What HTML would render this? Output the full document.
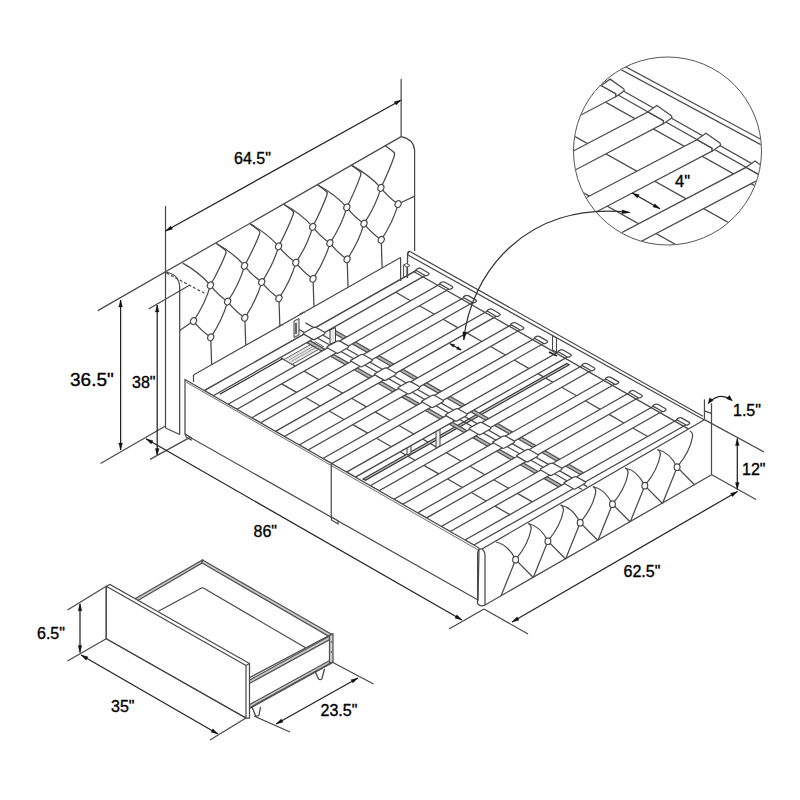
<!DOCTYPE html>
<html><head><meta charset="utf-8"><style>
html,body{margin:0;padding:0;background:#fff;}
svg{display:block;}
text{font-family:"Liberation Sans",sans-serif;fill:#000;stroke:#000;stroke-width:0.35px;}
</style></head><body>
<svg width="800" height="800" viewBox="0 0 800 800">
<rect width="800" height="800" fill="#fff"/>
<line x1="97.8" y1="310.6" x2="401.15" y2="136.6" stroke="#4a4a4a" stroke-width="1.25"/>
<path d="M401.15,136.6 Q413.5,139 414.6,150 L414.6,251" fill="none" stroke="#4a4a4a" stroke-width="1.25"/>
<line x1="165.5" y1="206" x2="165.5" y2="428" stroke="#4a4a4a" stroke-width="1.25"/>
<path d="M165.5,272 Q178.5,274 179.7,286 L179.7,434.5" fill="none" stroke="#4a4a4a" stroke-width="1.25"/>
<line x1="165.5" y1="428" x2="179.7" y2="434.5" stroke="#4a4a4a" stroke-width="1.25"/>
<line x1="166.5" y1="273" x2="205.5" y2="293.75" stroke="#4a4a4a" stroke-width="1.25" stroke-dasharray="3,2"/>
<path d="M182.75,263.1 Q199.96,272.81 210.4,285.3" fill="none" stroke="#4a4a4a" stroke-width="1.25"/>
<path d="M216.45,243.5 Q233.87,253.26 244.5,265.8" fill="none" stroke="#4a4a4a" stroke-width="1.25"/>
<path d="M216.45,243.5 L224.54,249.51 Q226.95,251.3 225.64,254 Q219.88,268.3 210.4,285.3" fill="none" stroke="#4a4a4a" stroke-width="1.25"/>
<path d="M250.15,223.9 Q267.78,233.71 278.6,246.3" fill="none" stroke="#4a4a4a" stroke-width="1.25"/>
<path d="M250.15,223.9 L258.24,229.91 Q260.65,231.7 259.37,234.41 Q253.77,248.75 244.5,265.8" fill="none" stroke="#4a4a4a" stroke-width="1.25"/>
<path d="M283.85,204.3 Q301.69,214.15 312.7,226.8" fill="none" stroke="#4a4a4a" stroke-width="1.25"/>
<path d="M283.85,204.3 L291.94,210.31 Q294.35,212.1 293.1,214.82 Q287.68,229.2 278.6,246.3" fill="none" stroke="#4a4a4a" stroke-width="1.25"/>
<path d="M317.55,184.7 Q335.59,194.6 346.8,207.3" fill="none" stroke="#4a4a4a" stroke-width="1.25"/>
<path d="M317.55,184.7 L325.64,190.71 Q328.05,192.5 326.82,195.24 Q321.57,209.65 312.7,226.8" fill="none" stroke="#4a4a4a" stroke-width="1.25"/>
<path d="M351.25,165.1 Q369.5,175.04 380.9,187.8" fill="none" stroke="#4a4a4a" stroke-width="1.25"/>
<path d="M351.25,165.1 L359.34,171.11 Q361.75,172.9 360.55,175.65 Q355.47,190.1 346.8,207.3" fill="none" stroke="#4a4a4a" stroke-width="1.25"/>
<path d="M384.95,145.5 L393.04,151.51 Q395.45,153.3 394.28,156.06 Q389.38,170.55 380.9,187.8" fill="none" stroke="#4a4a4a" stroke-width="1.25"/>
<path d="M210.4,285.3 Q218,294.93 227.61,301.55" fill="none" stroke="#4a4a4a" stroke-width="1.25"/>
<path d="M210.4,285.3 Q205.45,303.18 193.51,321.05" fill="none" stroke="#4a4a4a" stroke-width="1.25"/>
<path d="M244.5,265.8 Q252.11,275.43 261.71,282.05" fill="none" stroke="#4a4a4a" stroke-width="1.25"/>
<path d="M244.5,265.8 Q239.56,283.68 227.61,301.55" fill="none" stroke="#4a4a4a" stroke-width="1.25"/>
<path d="M278.6,246.3 Q286.21,255.93 295.81,262.55" fill="none" stroke="#4a4a4a" stroke-width="1.25"/>
<path d="M278.6,246.3 Q273.66,264.18 261.71,282.05" fill="none" stroke="#4a4a4a" stroke-width="1.25"/>
<path d="M312.7,226.8 Q320.31,236.43 329.91,243.05" fill="none" stroke="#4a4a4a" stroke-width="1.25"/>
<path d="M312.7,226.8 Q307.75,244.68 295.81,262.55" fill="none" stroke="#4a4a4a" stroke-width="1.25"/>
<path d="M346.8,207.3 Q354.41,216.93 364.01,223.55" fill="none" stroke="#4a4a4a" stroke-width="1.25"/>
<path d="M346.8,207.3 Q341.86,225.18 329.91,243.05" fill="none" stroke="#4a4a4a" stroke-width="1.25"/>
<path d="M380.9,187.8 Q388.5,197.43 398.11,204.05" fill="none" stroke="#4a4a4a" stroke-width="1.25"/>
<path d="M380.9,187.8 Q375.96,205.68 364.01,223.55" fill="none" stroke="#4a4a4a" stroke-width="1.25"/>
<path d="M193.51,321.05 Q201.12,330.68 210.72,337.3" fill="none" stroke="#4a4a4a" stroke-width="1.25"/>
<path d="M227.61,301.55 Q235.22,311.18 244.82,317.8" fill="none" stroke="#4a4a4a" stroke-width="1.25"/>
<path d="M227.61,301.55 Q222.67,319.43 210.72,337.3" fill="none" stroke="#4a4a4a" stroke-width="1.25"/>
<path d="M261.71,282.05 Q269.32,291.68 278.92,298.3" fill="none" stroke="#4a4a4a" stroke-width="1.25"/>
<path d="M261.71,282.05 Q256.76,299.93 244.82,317.8" fill="none" stroke="#4a4a4a" stroke-width="1.25"/>
<path d="M295.81,262.55 Q303.42,272.18 313.02,278.8" fill="none" stroke="#4a4a4a" stroke-width="1.25"/>
<path d="M295.81,262.55 Q290.87,280.43 278.92,298.3" fill="none" stroke="#4a4a4a" stroke-width="1.25"/>
<path d="M329.91,243.05 Q337.51,252.68 347.12,259.3" fill="none" stroke="#4a4a4a" stroke-width="1.25"/>
<path d="M329.91,243.05 Q324.97,260.93 313.02,278.8" fill="none" stroke="#4a4a4a" stroke-width="1.25"/>
<path d="M364.01,223.55 Q371.62,233.18 381.22,239.8" fill="none" stroke="#4a4a4a" stroke-width="1.25"/>
<path d="M364.01,223.55 Q359.07,241.43 347.12,259.3" fill="none" stroke="#4a4a4a" stroke-width="1.25"/>
<path d="M398.11,204.05 Q393.17,221.93 381.22,239.8" fill="none" stroke="#4a4a4a" stroke-width="1.25"/>
<line x1="193.51" y1="321.05" x2="179.7" y2="330.4" stroke="#4a4a4a" stroke-width="1.25"/>
<line x1="398.11" y1="204.05" x2="414.6" y2="196.1" stroke="#4a4a4a" stroke-width="1.25"/>
<line x1="210.72" y1="337.3" x2="211.72" y2="366.66" stroke="#4a4a4a" stroke-width="1.25"/>
<line x1="244.82" y1="317.8" x2="245.82" y2="347.32" stroke="#4a4a4a" stroke-width="1.25"/>
<line x1="278.92" y1="298.3" x2="279.92" y2="327.97" stroke="#4a4a4a" stroke-width="1.25"/>
<line x1="313.02" y1="278.8" x2="314.02" y2="308.63" stroke="#4a4a4a" stroke-width="1.25"/>
<line x1="347.12" y1="259.3" x2="348.12" y2="289.28" stroke="#4a4a4a" stroke-width="1.25"/>
<line x1="381.22" y1="239.8" x2="382.22" y2="269.94" stroke="#4a4a4a" stroke-width="1.25"/>
<ellipse cx="210.4" cy="285.3" rx="2.9" ry="3.5" transform="rotate(25 210.4 285.3)" fill="#fff" stroke="#4a4a4a" stroke-width="1.2"/>
<ellipse cx="244.5" cy="265.8" rx="2.9" ry="3.5" transform="rotate(25 244.5 265.8)" fill="#fff" stroke="#4a4a4a" stroke-width="1.2"/>
<ellipse cx="278.6" cy="246.3" rx="2.9" ry="3.5" transform="rotate(25 278.6 246.3)" fill="#fff" stroke="#4a4a4a" stroke-width="1.2"/>
<ellipse cx="312.7" cy="226.8" rx="2.9" ry="3.5" transform="rotate(25 312.7 226.8)" fill="#fff" stroke="#4a4a4a" stroke-width="1.2"/>
<ellipse cx="346.8" cy="207.3" rx="2.9" ry="3.5" transform="rotate(25 346.8 207.3)" fill="#fff" stroke="#4a4a4a" stroke-width="1.2"/>
<ellipse cx="380.9" cy="187.8" rx="2.9" ry="3.5" transform="rotate(25 380.9 187.8)" fill="#fff" stroke="#4a4a4a" stroke-width="1.2"/>
<ellipse cx="193.51" cy="321.05" rx="2.9" ry="3.5" transform="rotate(25 193.51 321.05)" fill="#fff" stroke="#4a4a4a" stroke-width="1.2"/>
<ellipse cx="227.61" cy="301.55" rx="2.9" ry="3.5" transform="rotate(25 227.61 301.55)" fill="#fff" stroke="#4a4a4a" stroke-width="1.2"/>
<ellipse cx="261.71" cy="282.05" rx="2.9" ry="3.5" transform="rotate(25 261.71 282.05)" fill="#fff" stroke="#4a4a4a" stroke-width="1.2"/>
<ellipse cx="295.81" cy="262.55" rx="2.9" ry="3.5" transform="rotate(25 295.81 262.55)" fill="#fff" stroke="#4a4a4a" stroke-width="1.2"/>
<ellipse cx="329.91" cy="243.05" rx="2.9" ry="3.5" transform="rotate(25 329.91 243.05)" fill="#fff" stroke="#4a4a4a" stroke-width="1.2"/>
<ellipse cx="364.01" cy="223.55" rx="2.9" ry="3.5" transform="rotate(25 364.01 223.55)" fill="#fff" stroke="#4a4a4a" stroke-width="1.2"/>
<ellipse cx="398.11" cy="204.05" rx="2.9" ry="3.5" transform="rotate(25 398.11 204.05)" fill="#fff" stroke="#4a4a4a" stroke-width="1.2"/>
<ellipse cx="210.72" cy="337.3" rx="2.9" ry="3.5" transform="rotate(25 210.72 337.3)" fill="#fff" stroke="#4a4a4a" stroke-width="1.2"/>
<ellipse cx="244.82" cy="317.8" rx="2.9" ry="3.5" transform="rotate(25 244.82 317.8)" fill="#fff" stroke="#4a4a4a" stroke-width="1.2"/>
<ellipse cx="278.92" cy="298.3" rx="2.9" ry="3.5" transform="rotate(25 278.92 298.3)" fill="#fff" stroke="#4a4a4a" stroke-width="1.2"/>
<ellipse cx="313.02" cy="278.8" rx="2.9" ry="3.5" transform="rotate(25 313.02 278.8)" fill="#fff" stroke="#4a4a4a" stroke-width="1.2"/>
<ellipse cx="347.12" cy="259.3" rx="2.9" ry="3.5" transform="rotate(25 347.12 259.3)" fill="#fff" stroke="#4a4a4a" stroke-width="1.2"/>
<ellipse cx="381.22" cy="239.8" rx="2.9" ry="3.5" transform="rotate(25 381.22 239.8)" fill="#fff" stroke="#4a4a4a" stroke-width="1.2"/>
<line x1="148.6" y1="309" x2="189" y2="285.5" stroke="#4a4a4a" stroke-width="1.25"/>
<polygon points="193.5,375 400.6,257.5 400.6,282 193.5,400" fill="#fff" stroke="none" stroke-width="0"/>
<line x1="193.5" y1="375" x2="400.6" y2="257.5" stroke="#4a4a4a" stroke-width="1.25"/>
<line x1="400.6" y1="257.5" x2="400.6" y2="281" stroke="#4a4a4a" stroke-width="1.25"/>
<line x1="193.5" y1="375" x2="193.5" y2="381" stroke="#4a4a4a" stroke-width="1.25"/>
<polygon points="407.5,253 409.4,250 704.25,419.75 702,430 407.5,278" fill="#fff" stroke="none" stroke-width="0"/>
<path d="M407.5,278 L407.5,254.5 Q407.8,251.5 409.6,251.3 L703,416.3" fill="none" stroke="#4a4a4a" stroke-width="1.25"/>
<line x1="407.5" y1="254.8" x2="704.45" y2="420" stroke="#4a4a4a" stroke-width="1.25"/>
<line x1="280.42" y1="357.58" x2="295.3" y2="366.1" stroke="#4a4a4a" stroke-width="1.25"/>
<line x1="395.78" y1="292.17" x2="410.66" y2="300.7" stroke="#4a4a4a" stroke-width="1.25"/>
<line x1="304.12" y1="371.16" x2="319" y2="379.68" stroke="#4a4a4a" stroke-width="1.25"/>
<line x1="281.72" y1="383.86" x2="296.6" y2="392.38" stroke="#4a4a4a" stroke-width="1.25"/>
<line x1="419.48" y1="305.75" x2="434.36" y2="314.28" stroke="#4a4a4a" stroke-width="1.25"/>
<line x1="327.82" y1="384.74" x2="342.69" y2="393.26" stroke="#4a4a4a" stroke-width="1.25"/>
<line x1="305.42" y1="397.44" x2="320.29" y2="405.96" stroke="#4a4a4a" stroke-width="1.25"/>
<line x1="443.18" y1="319.33" x2="458.05" y2="327.86" stroke="#4a4a4a" stroke-width="1.25"/>
<line x1="351.51" y1="398.32" x2="366.39" y2="406.85" stroke="#4a4a4a" stroke-width="1.25"/>
<line x1="329.11" y1="411.02" x2="343.99" y2="419.55" stroke="#4a4a4a" stroke-width="1.25"/>
<line x1="466.87" y1="332.91" x2="481.75" y2="341.44" stroke="#4a4a4a" stroke-width="1.25"/>
<line x1="375.21" y1="411.9" x2="390.09" y2="420.43" stroke="#4a4a4a" stroke-width="1.25"/>
<line x1="352.81" y1="424.6" x2="367.69" y2="433.13" stroke="#4a4a4a" stroke-width="1.25"/>
<line x1="490.57" y1="346.5" x2="505.45" y2="355.02" stroke="#4a4a4a" stroke-width="1.25"/>
<line x1="398.91" y1="425.48" x2="413.78" y2="434.01" stroke="#4a4a4a" stroke-width="1.25"/>
<line x1="376.51" y1="438.18" x2="391.38" y2="446.71" stroke="#4a4a4a" stroke-width="1.25"/>
<line x1="514.27" y1="360.08" x2="529.14" y2="368.6" stroke="#4a4a4a" stroke-width="1.25"/>
<line x1="422.6" y1="439.06" x2="437.48" y2="447.59" stroke="#4a4a4a" stroke-width="1.25"/>
<line x1="400.2" y1="451.76" x2="415.08" y2="460.29" stroke="#4a4a4a" stroke-width="1.25"/>
<line x1="537.96" y1="373.66" x2="552.84" y2="382.18" stroke="#4a4a4a" stroke-width="1.25"/>
<line x1="446.3" y1="452.64" x2="461.18" y2="461.17" stroke="#4a4a4a" stroke-width="1.25"/>
<line x1="423.9" y1="465.34" x2="438.78" y2="473.87" stroke="#4a4a4a" stroke-width="1.25"/>
<line x1="561.66" y1="387.24" x2="576.54" y2="395.76" stroke="#4a4a4a" stroke-width="1.25"/>
<line x1="470" y1="466.22" x2="484.87" y2="474.75" stroke="#4a4a4a" stroke-width="1.25"/>
<line x1="447.6" y1="478.92" x2="462.47" y2="487.45" stroke="#4a4a4a" stroke-width="1.25"/>
<line x1="585.36" y1="400.82" x2="600.23" y2="409.35" stroke="#4a4a4a" stroke-width="1.25"/>
<line x1="493.69" y1="479.81" x2="508.57" y2="488.33" stroke="#4a4a4a" stroke-width="1.25"/>
<line x1="471.29" y1="492.51" x2="486.17" y2="501.03" stroke="#4a4a4a" stroke-width="1.25"/>
<line x1="609.05" y1="414.4" x2="623.93" y2="422.93" stroke="#4a4a4a" stroke-width="1.25"/>
<line x1="517.39" y1="493.39" x2="532.26" y2="501.91" stroke="#4a4a4a" stroke-width="1.25"/>
<line x1="494.99" y1="506.09" x2="509.86" y2="514.61" stroke="#4a4a4a" stroke-width="1.25"/>
<line x1="632.75" y1="427.98" x2="647.62" y2="436.51" stroke="#4a4a4a" stroke-width="1.25"/>
<polygon points="283.95,359.6 292.18,364.32 323.54,346.54 315.31,341.82" fill="#e6e6e6" stroke="#555" stroke-width="0.9"/>
<line x1="289.13" y1="360.01" x2="316.01" y2="344.77" stroke="#888" stroke-width="0.8"/>
<line x1="291.48" y1="361.36" x2="318.36" y2="346.12" stroke="#888" stroke-width="0.8"/>
<polygon points="363.05,478.99 365.4,480.34 569.24,364.77 566.89,363.42" fill="#c0c0c0" stroke="#333" stroke-width="1.1"/>
<polygon points="407,447 411,445 411,453 407,455" fill="#eee" stroke="#444" stroke-width="1"/>
<polygon points="436,431 440,429 440,446 436,448" fill="#eee" stroke="#444" stroke-width="1"/>
<line x1="307.44" y1="332.2" x2="582.04" y2="489.58" stroke="#4a4a4a" stroke-width="1.25"/>
<line x1="312.6" y1="329.28" x2="587.19" y2="486.66" stroke="#4a4a4a" stroke-width="1.25"/>
<polygon points="278.63,326.41 298.04,337.53 301.17,335.76 281.77,324.64" fill="#b4b4b4" stroke="#505050" stroke-width="1.25"/>
<polygon points="300.36,314.1 319.76,325.22 322.9,323.44 303.5,312.32" fill="#b4b4b4" stroke="#505050" stroke-width="1.25"/>
<polygon points="306.86,342.59 321.73,351.12 324.87,349.34 309.99,340.81" fill="#b4b4b4" stroke="#505050" stroke-width="1.25"/>
<polygon points="328.58,330.27 343.46,338.8 346.6,337.02 331.72,328.49" fill="#b4b4b4" stroke="#505050" stroke-width="1.25"/>
<polygon points="330.55,356.17 345.43,364.7 348.56,362.92 333.69,354.39" fill="#b4b4b4" stroke="#505050" stroke-width="1.25"/>
<polygon points="352.28,343.85 367.16,352.38 370.29,350.6 355.42,342.07" fill="#b4b4b4" stroke="#505050" stroke-width="1.25"/>
<polygon points="354.25,369.75 369.13,378.28 372.26,376.5 357.38,367.97" fill="#b4b4b4" stroke="#505050" stroke-width="1.25"/>
<polygon points="375.98,357.43 390.85,365.96 393.99,364.18 379.11,355.66" fill="#b4b4b4" stroke="#505050" stroke-width="1.25"/>
<polygon points="377.95,383.33 392.82,391.86 395.96,390.08 381.08,381.56" fill="#b4b4b4" stroke="#505050" stroke-width="1.25"/>
<polygon points="399.67,371.01 414.55,379.54 417.69,377.76 402.81,369.24" fill="#b4b4b4" stroke="#505050" stroke-width="1.25"/>
<polygon points="401.64,396.91 416.52,405.44 419.65,403.66 404.78,395.14" fill="#b4b4b4" stroke="#505050" stroke-width="1.25"/>
<polygon points="423.37,384.6 438.25,393.12 441.38,391.34 426.51,382.82" fill="#b4b4b4" stroke="#505050" stroke-width="1.25"/>
<polygon points="425.34,410.5 440.21,419.02 443.35,417.24 428.47,408.72" fill="#b4b4b4" stroke="#505050" stroke-width="1.25"/>
<polygon points="447.07,398.18 461.94,406.7 465.08,404.92 450.2,396.4" fill="#b4b4b4" stroke="#505050" stroke-width="1.25"/>
<polygon points="449.03,424.08 463.91,432.6 467.05,430.82 452.17,422.3" fill="#b4b4b4" stroke="#505050" stroke-width="1.25"/>
<polygon points="470.76,411.76 485.64,420.28 488.77,418.51 473.9,409.98" fill="#b4b4b4" stroke="#505050" stroke-width="1.25"/>
<polygon points="472.73,437.66 487.61,446.18 490.74,444.41 475.87,435.88" fill="#b4b4b4" stroke="#505050" stroke-width="1.25"/>
<polygon points="494.46,425.34 509.34,433.86 512.47,432.09 497.59,423.56" fill="#b4b4b4" stroke="#505050" stroke-width="1.25"/>
<polygon points="496.43,451.24 511.3,459.76 514.44,457.99 499.56,449.46" fill="#b4b4b4" stroke="#505050" stroke-width="1.25"/>
<polygon points="518.16,438.92 533.03,447.45 536.17,445.67 521.29,437.14" fill="#b4b4b4" stroke="#505050" stroke-width="1.25"/>
<polygon points="520.12,464.82 535,473.35 538.14,471.57 523.26,463.04" fill="#b4b4b4" stroke="#505050" stroke-width="1.25"/>
<polygon points="541.85,452.5 556.73,461.03 559.86,459.25 544.99,450.72" fill="#b4b4b4" stroke="#505050" stroke-width="1.25"/>
<polygon points="543.82,478.4 558.7,486.93 561.83,485.15 546.96,476.62" fill="#b4b4b4" stroke="#505050" stroke-width="1.25"/>
<polygon points="565.55,466.08 580.42,474.61 583.56,472.83 568.68,464.3" fill="#b4b4b4" stroke="#505050" stroke-width="1.25"/>
<polygon points="186.18,380.17 404.58,256.35 422.8,266.8 204.4,390.62" fill="#fff" stroke="none" stroke-width="0"/>
<line x1="204.4" y1="390.62" x2="420.56" y2="268.07" stroke="#4a4a4a" stroke-width="1.25"/>
<line x1="296.54" y1="327.99" x2="306.83" y2="333.89" stroke="#4a4a4a" stroke-width="1.25"/>
<line x1="305.5" y1="322.91" x2="315.79" y2="328.81" stroke="#4a4a4a" stroke-width="1.25"/>
<polygon points="294,321 299,318.5 299,335 294,337.5" fill="#e8e8e8" stroke="#444" stroke-width="1"/>
<line x1="296" y1="323" x2="296" y2="334" stroke="#222" stroke-width="1.3"/>
<polygon points="330,330 335.5,327.5 335.5,342 330,344" fill="#e8e8e8" stroke="#444" stroke-width="1"/>
<polygon points="204.4,390.62 213.22,395.68 427.14,274.39 418.32,269.34" fill="#fff" stroke="#4a4a4a" stroke-width="1.25"/>
<polygon points="228.1,404.2 236.92,409.26 450.84,287.97 442.02,282.92" fill="#fff" stroke="#4a4a4a" stroke-width="1.25"/>
<polygon points="251.8,417.78 260.62,422.84 474.54,301.55 465.72,296.5" fill="#fff" stroke="#4a4a4a" stroke-width="1.25"/>
<polygon points="275.49,431.36 284.31,436.42 498.23,315.13 489.41,310.08" fill="#fff" stroke="#4a4a4a" stroke-width="1.25"/>
<polygon points="299.19,444.95 308.01,450 521.93,328.72 513.11,323.66" fill="#fff" stroke="#4a4a4a" stroke-width="1.25"/>
<polygon points="322.89,458.53 331.71,463.58 545.63,342.3 536.81,337.24" fill="#fff" stroke="#4a4a4a" stroke-width="1.25"/>
<polygon points="346.58,472.11 355.4,477.16 569.32,355.88 560.5,350.82" fill="#fff" stroke="#4a4a4a" stroke-width="1.25"/>
<polygon points="370.28,485.69 379.1,490.74 593.02,369.46 584.2,364.4" fill="#fff" stroke="#4a4a4a" stroke-width="1.25"/>
<polygon points="393.98,499.27 402.8,504.32 616.72,383.04 607.9,377.98" fill="#fff" stroke="#4a4a4a" stroke-width="1.25"/>
<polygon points="417.67,512.85 426.49,517.91 640.41,396.62 631.59,391.57" fill="#fff" stroke="#4a4a4a" stroke-width="1.25"/>
<polygon points="441.37,526.43 450.19,531.49 664.11,410.2 655.29,405.15" fill="#fff" stroke="#4a4a4a" stroke-width="1.25"/>
<polygon points="465.06,540.01 473.88,545.07 687.8,423.78 678.98,418.73" fill="#fff" stroke="#4a4a4a" stroke-width="1.25"/>
<line x1="414.07" y1="271.75" x2="688.66" y2="429.13" stroke="#4a4a4a" stroke-width="1.25"/>
<path d="M303.73,334.16 Q302.68,333.56 303.73,332.97 L312.87,327.79 Q314.78,326.7 316.69,327.79 L324.04,332.01 Q325.95,333.1 324.04,334.19 L314.9,339.37 Q313.86,339.96 312.81,339.37 Z" fill="#fff" stroke="#4a4a4a" stroke-width="1.25"/>
<path d="M416.47,270.57 Q415.43,269.97 416.47,269.38 L417.63,268.73 Q419.46,267.69 421.29,268.74 L428.21,272.71 Q430.04,273.75 428.21,274.79 L427.05,275.45 Q426.01,276.04 424.97,275.44 Z" fill="#fff" stroke="#4a4a4a" stroke-width="1.25"/>
<path d="M327.42,347.74 Q326.38,347.14 327.42,346.55 L336.56,341.37 Q338.48,340.28 340.39,341.38 L347.74,345.59 Q349.65,346.69 347.73,347.77 L338.6,352.95 Q337.55,353.54 336.51,352.95 Z" fill="#fff" stroke="#4a4a4a" stroke-width="1.25"/>
<path d="M440.16,284.15 Q439.12,283.55 440.17,282.96 L441.32,282.31 Q443.15,281.27 444.98,282.32 L451.91,286.29 Q453.74,287.33 451.91,288.37 L450.75,289.03 Q449.71,289.62 448.67,289.02 Z" fill="#fff" stroke="#4a4a4a" stroke-width="1.25"/>
<path d="M351.12,361.32 Q350.08,360.72 351.12,360.13 L360.26,354.95 Q362.17,353.86 364.08,354.96 L371.44,359.17 Q373.34,360.27 371.43,361.35 L362.29,366.53 Q361.25,367.12 360.21,366.53 Z" fill="#fff" stroke="#4a4a4a" stroke-width="1.25"/>
<path d="M463.86,297.73 Q462.82,297.14 463.86,296.54 L465.02,295.89 Q466.85,294.85 468.68,295.9 L475.61,299.87 Q477.43,300.92 475.6,301.95 L474.45,302.61 Q473.4,303.2 472.36,302.6 Z" fill="#fff" stroke="#4a4a4a" stroke-width="1.25"/>
<path d="M374.81,374.9 Q373.77,374.3 374.82,373.71 L383.96,368.53 Q385.87,367.44 387.78,368.54 L395.13,372.75 Q397.04,373.85 395.13,374.93 L385.99,380.11 Q384.95,380.71 383.9,380.11 Z" fill="#fff" stroke="#4a4a4a" stroke-width="1.25"/>
<path d="M487.56,311.31 Q486.52,310.72 487.56,310.12 L488.71,309.47 Q490.55,308.43 492.38,309.48 L499.3,313.45 Q501.13,314.5 499.3,315.54 L498.14,316.19 Q497.1,316.78 496.06,316.19 Z" fill="#fff" stroke="#4a4a4a" stroke-width="1.25"/>
<path d="M398.51,388.48 Q397.47,387.88 398.51,387.29 L407.65,382.11 Q409.57,381.03 411.47,382.12 L418.83,386.33 Q420.74,387.43 418.82,388.51 L409.69,393.69 Q408.64,394.29 407.6,393.69 Z" fill="#fff" stroke="#4a4a4a" stroke-width="1.25"/>
<path d="M511.25,324.89 Q510.21,324.3 511.26,323.71 L512.41,323.05 Q514.24,322.01 516.07,323.06 L523,327.03 Q524.83,328.08 522.99,329.12 L521.84,329.77 Q520.8,330.36 519.75,329.77 Z" fill="#fff" stroke="#4a4a4a" stroke-width="1.25"/>
<path d="M422.21,402.06 Q421.17,401.46 422.21,400.87 L431.35,395.69 Q433.26,394.61 435.17,395.7 L442.53,399.92 Q444.43,401.01 442.52,402.09 L433.38,407.28 Q432.34,407.87 431.3,407.27 Z" fill="#fff" stroke="#4a4a4a" stroke-width="1.25"/>
<path d="M534.95,338.48 Q533.91,337.88 534.95,337.29 L536.11,336.63 Q537.94,335.59 539.77,336.64 L546.7,340.61 Q548.52,341.66 546.69,342.7 L545.54,343.35 Q544.49,343.94 543.45,343.35 Z" fill="#fff" stroke="#4a4a4a" stroke-width="1.25"/>
<path d="M445.9,415.64 Q444.86,415.05 445.91,414.45 L455.04,409.27 Q456.96,408.19 458.87,409.28 L466.22,413.5 Q468.13,414.59 466.22,415.68 L457.08,420.86 Q456.03,421.45 454.99,420.85 Z" fill="#fff" stroke="#4a4a4a" stroke-width="1.25"/>
<path d="M558.65,352.06 Q557.6,351.46 558.65,350.87 L559.8,350.21 Q561.64,349.17 563.46,350.22 L570.39,354.19 Q572.22,355.24 570.39,356.28 L569.23,356.93 Q568.19,357.53 567.15,356.93 Z" fill="#fff" stroke="#4a4a4a" stroke-width="1.25"/>
<path d="M469.6,429.22 Q468.56,428.63 469.6,428.03 L478.74,422.85 Q480.65,421.77 482.56,422.86 L489.92,427.08 Q491.83,428.17 489.91,429.26 L480.77,434.44 Q479.73,435.03 478.69,434.43 Z" fill="#fff" stroke="#4a4a4a" stroke-width="1.25"/>
<path d="M582.34,365.64 Q581.3,365.04 582.34,364.45 L583.5,363.79 Q585.33,362.76 587.16,363.8 L594.09,367.77 Q595.92,368.82 594.08,369.86 L592.93,370.52 Q591.88,371.11 590.84,370.51 Z" fill="#fff" stroke="#4a4a4a" stroke-width="1.25"/>
<path d="M493.3,442.8 Q492.26,442.21 493.3,441.62 L502.44,436.43 Q504.35,435.35 506.26,436.44 L513.61,440.66 Q515.52,441.75 513.61,442.84 L504.47,448.02 Q503.43,448.61 502.39,448.01 Z" fill="#fff" stroke="#4a4a4a" stroke-width="1.25"/>
<path d="M606.04,379.22 Q605,378.62 606.04,378.03 L607.2,377.38 Q609.03,376.34 610.86,377.38 L617.79,381.35 Q619.61,382.4 617.78,383.44 L616.63,384.1 Q615.58,384.69 614.54,384.09 Z" fill="#fff" stroke="#4a4a4a" stroke-width="1.25"/>
<path d="M516.99,456.39 Q515.95,455.79 517,455.2 L526.13,450.02 Q528.05,448.93 529.96,450.02 L537.31,454.24 Q539.22,455.33 537.31,456.42 L528.17,461.6 Q527.12,462.19 526.08,461.6 Z" fill="#fff" stroke="#4a4a4a" stroke-width="1.25"/>
<path d="M629.73,392.8 Q628.69,392.2 629.74,391.61 L630.89,390.96 Q632.73,389.92 634.55,390.97 L641.48,394.94 Q643.31,395.98 641.48,397.02 L640.32,397.68 Q639.28,398.27 638.24,397.67 Z" fill="#fff" stroke="#4a4a4a" stroke-width="1.25"/>
<path d="M540.69,469.97 Q539.65,469.37 540.69,468.78 L549.83,463.6 Q551.74,462.51 553.65,463.61 L561.01,467.82 Q562.92,468.92 561,470 L551.86,475.18 Q550.82,475.77 549.78,475.18 Z" fill="#fff" stroke="#4a4a4a" stroke-width="1.25"/>
<path d="M653.43,406.38 Q652.39,405.78 653.43,405.19 L654.59,404.54 Q656.42,403.5 658.25,404.55 L665.18,408.52 Q667.01,409.56 665.17,410.6 L664.02,411.26 Q662.97,411.85 661.93,411.25 Z" fill="#fff" stroke="#4a4a4a" stroke-width="1.25"/>
<path d="M564.39,483.55 Q563.34,482.95 564.39,482.36 L573.53,477.18 Q575.44,476.09 577.35,477.19 L584.7,481.4 Q586.61,482.5 584.7,483.58 L575.56,488.76 Q574.52,489.35 573.48,488.76 Z" fill="#fff" stroke="#4a4a4a" stroke-width="1.25"/>
<path d="M677.13,419.96 Q676.09,419.37 677.13,418.77 L678.29,418.12 Q680.12,417.08 681.95,418.13 L688.87,422.1 Q690.7,423.15 688.87,424.18 L687.71,424.84 Q686.67,425.43 685.63,424.83 Z" fill="#fff" stroke="#4a4a4a" stroke-width="1.25"/>
<polygon points="400.6,257.5 407,254 407,274 400.6,277" fill="#fff" stroke="none" stroke-width="0"/>
<line x1="400.6" y1="257.5" x2="400.6" y2="281" stroke="#4a4a4a" stroke-width="1.25"/>
<path d="M407.5,278 L407.5,254.5 Q407.8,251.5 409.6,251.3" fill="none" stroke="#4a4a4a" stroke-width="1.25"/>
<polygon points="403.5,265 406.5,263.5 410,265.5 407,267.2" fill="#fff" stroke="#4a4a4a" stroke-width="1"/>
<line x1="403.6" y1="265.5" x2="403.6" y2="277.5" stroke="#4a4a4a" stroke-width="1"/>
<line x1="406.9" y1="267" x2="406.9" y2="277.5" stroke="#4a4a4a" stroke-width="1"/>
<line x1="219.76" y1="394.32" x2="282.48" y2="358.76" stroke="#222" stroke-width="1.1"/>
<line x1="193.5" y1="375" x2="193.5" y2="382" stroke="#4a4a4a" stroke-width="1.25"/>
<polygon points="552.5,336 556.5,338 556.5,352 552.5,350" fill="#fff" stroke="#4a4a4a" stroke-width="1.1"/>
<line x1="549" y1="352" x2="557" y2="356" stroke="#222" stroke-width="1.6"/>
<polygon points="185,379.5 479,548 478,600 185,434.5" fill="#fff" stroke="#4a4a4a" stroke-width="1.25"/>
<line x1="186" y1="382" x2="479" y2="550.5" stroke="#4a4a4a" stroke-width="0.8"/>
<line x1="331.25" y1="463.3" x2="331.25" y2="518" stroke="#4a4a4a" stroke-width="1.25"/>
<polygon points="186,434.5 191,437.5 191,440 186,437" fill="#fff" stroke="#4a4a4a" stroke-width="1.25"/>
<polygon points="331.5,517 338,521 338,524 331.5,520" fill="#fff" stroke="#4a4a4a" stroke-width="1.25"/>
<polygon points="482,549 704.4,419.8 711.75,420 711.75,474.75 485,605" fill="#fff" stroke="none" stroke-width="0"/>
<line x1="482" y1="549" x2="704.4" y2="419.7" stroke="#4a4a4a" stroke-width="1.25"/>
<line x1="711.6" y1="474.75" x2="485" y2="605" stroke="#4a4a4a" stroke-width="1.25"/>
<path d="M477.6,604 L477.6,553 Q478,548.5 482,549 Q485,551 485,556 L485,605 Q481,607 477.6,604" fill="none" stroke="#4a4a4a" stroke-width="1.25"/>
<line x1="704.45" y1="399.4" x2="704.45" y2="419.6" stroke="#4a4a4a" stroke-width="1.25"/>
<line x1="711.5" y1="403.4" x2="711.5" y2="474.75" stroke="#4a4a4a" stroke-width="1.25"/>
<line x1="704.45" y1="410.8" x2="711.5" y2="413.4" stroke="#4a4a4a" stroke-width="1.25"/>
<path d="M496,542 Q508.15,544.65 515.6,559.7 L533.3,577.5" fill="none" stroke="#4a4a4a" stroke-width="1.25"/>
<path d="M528.3,523.5 Q531.5,525 531.1,529 Q528.8,543.5 515.6,559.7 L501,596" fill="none" stroke="#4a4a4a" stroke-width="1.25"/>
<path d="M528.3,523.5 Q540.45,526.15 547.9,541.2 L565.6,559" fill="none" stroke="#4a4a4a" stroke-width="1.25"/>
<path d="M560.6,505 Q563.8,506.5 563.4,510.5 Q561.1,525 547.9,541.2 L533.3,577.5" fill="none" stroke="#4a4a4a" stroke-width="1.25"/>
<path d="M560.6,505 Q572.75,507.66 580.2,522.7 L597.9,540.5" fill="none" stroke="#4a4a4a" stroke-width="1.25"/>
<path d="M592.9,486.5 Q596.1,488 595.7,492 Q593.4,506.5 580.2,522.7 L565.6,559" fill="none" stroke="#4a4a4a" stroke-width="1.25"/>
<path d="M592.9,486.5 Q605.05,489.16 612.5,504.2 L630.2,522" fill="none" stroke="#4a4a4a" stroke-width="1.25"/>
<path d="M625.2,468 Q628.4,469.5 628,473.5 Q625.7,488 612.5,504.2 L597.9,540.5" fill="none" stroke="#4a4a4a" stroke-width="1.25"/>
<path d="M625.2,468 Q637.35,470.66 644.8,485.7 L662.5,503.5" fill="none" stroke="#4a4a4a" stroke-width="1.25"/>
<path d="M657.5,449.5 Q660.7,451 660.3,455 Q658,469.5 644.8,485.7 L630.2,522" fill="none" stroke="#4a4a4a" stroke-width="1.25"/>
<path d="M657.5,449.5 Q669.65,452.16 677.1,467.2 L694.8,485" fill="none" stroke="#4a4a4a" stroke-width="1.25"/>
<path d="M689.8,431 Q693,432.5 692.6,436.5 Q690.3,451 677.1,467.2 L662.5,503.5" fill="none" stroke="#4a4a4a" stroke-width="1.25"/>
<ellipse cx="515.6" cy="559.7" rx="2.9" ry="3.3" fill="#fff" stroke="#4a4a4a" stroke-width="1.2"/>
<ellipse cx="547.9" cy="541.2" rx="2.9" ry="3.3" fill="#fff" stroke="#4a4a4a" stroke-width="1.2"/>
<ellipse cx="580.2" cy="522.7" rx="2.9" ry="3.3" fill="#fff" stroke="#4a4a4a" stroke-width="1.2"/>
<ellipse cx="612.5" cy="504.2" rx="2.9" ry="3.3" fill="#fff" stroke="#4a4a4a" stroke-width="1.2"/>
<ellipse cx="644.8" cy="485.7" rx="2.9" ry="3.3" fill="#fff" stroke="#4a4a4a" stroke-width="1.2"/>
<ellipse cx="677.1" cy="467.2" rx="2.9" ry="3.3" fill="#fff" stroke="#4a4a4a" stroke-width="1.2"/>
<line x1="165.5" y1="231" x2="401.3" y2="100" stroke="#222" stroke-width="1.25"/>
<polygon points="401.3,100 396.1,105.06 394.26,101.74" fill="#111" stroke="#111" stroke-width="0.3"/>
<polygon points="165.5,231 170.7,225.94 172.54,229.26" fill="#111" stroke="#111" stroke-width="0.3"/>
<line x1="401.15" y1="79" x2="401.15" y2="136.6" stroke="#4a4a4a" stroke-width="1.25"/>
<text x="234" y="163.5" font-size="16">64.5"</text>
<line x1="120.6" y1="300" x2="120.6" y2="450" stroke="#222" stroke-width="1.25"/>
<polygon points="120.6,450 118.7,443 122.5,443" fill="#111" stroke="#111" stroke-width="0.3"/>
<polygon points="120.6,300 122.5,307 118.7,307" fill="#111" stroke="#111" stroke-width="0.3"/>
<line x1="100.5" y1="463.5" x2="165.5" y2="426" stroke="#4a4a4a" stroke-width="1.25"/>
<text x="70" y="386" font-size="19">36.5"</text>
<line x1="157.2" y1="305" x2="157.2" y2="455.5" stroke="#222" stroke-width="1.25"/>
<polygon points="157.2,455.5 155.3,448.5 159.1,448.5" fill="#111" stroke="#111" stroke-width="0.3"/>
<polygon points="157.2,305 159.1,312 155.3,312" fill="#111" stroke="#111" stroke-width="0.3"/>
<line x1="150" y1="459.4" x2="190" y2="437.4" stroke="#4a4a4a" stroke-width="1.25"/>
<text x="132" y="388" font-size="16">38"</text>
<line x1="146" y1="438.8" x2="462" y2="620" stroke="#222" stroke-width="1.25"/>
<polygon points="462,620 454.98,618.17 456.87,614.87" fill="#111" stroke="#111" stroke-width="0.3"/>
<polygon points="146,438.8 153.02,440.63 151.13,443.93" fill="#111" stroke="#111" stroke-width="0.3"/>
<line x1="449" y1="629" x2="484" y2="609" stroke="#4a4a4a" stroke-width="1.25"/>
<line x1="484" y1="609" x2="528" y2="634" stroke="#4a4a4a" stroke-width="1.25"/>
<text x="253.5" y="536.5" font-size="16">86"</text>
<line x1="512" y1="622" x2="737.5" y2="491.5" stroke="#222" stroke-width="1.25"/>
<polygon points="737.5,491.5 732.39,496.65 730.49,493.36" fill="#111" stroke="#111" stroke-width="0.3"/>
<polygon points="512,622 517.11,616.85 519.01,620.14" fill="#111" stroke="#111" stroke-width="0.3"/>
<text x="623.5" y="577" font-size="16">62.5"</text>
<line x1="737.3" y1="438.5" x2="737.3" y2="489.5" stroke="#222" stroke-width="1.25"/>
<polygon points="737.3,489.5 735.4,482.5 739.2,482.5" fill="#111" stroke="#111" stroke-width="0.3"/>
<polygon points="737.3,438.5 739.2,445.5 735.4,445.5" fill="#111" stroke="#111" stroke-width="0.3"/>
<line x1="704.45" y1="419.6" x2="764" y2="452" stroke="#4a4a4a" stroke-width="1.25"/>
<line x1="711.75" y1="474.75" x2="756" y2="499.5" stroke="#4a4a4a" stroke-width="1.25"/>
<text x="742" y="475" font-size="16">12"</text>
<text x="733" y="416" font-size="16">1.5"</text>
<path d="M709.5,402 Q720,392 730.5,399.5" fill="none" stroke="#222" stroke-width="1.25"/>
<polygon points="708,404 709.64,397.82 713.24,400.35" fill="#111" stroke="#111" stroke-width="0.3"/>
<polygon points="732.5,401 726.55,398.66 729.48,395.37" fill="#111" stroke="#111" stroke-width="0.3"/>
<defs><clipPath id="cc"><circle cx="667.5" cy="151" r="93.5"/></clipPath></defs>
<g clip-path="url(#cc)">
<line x1="560" y1="31.62" x2="780" y2="149.54" stroke="#4a4a4a" stroke-width="1.25"/>
<line x1="560" y1="36.93" x2="780" y2="154.85" stroke="#4a4a4a" stroke-width="1.25"/>
<line x1="540" y1="65.54" x2="780" y2="199.94" stroke="#4a4a4a" stroke-width="1.25"/>
<line x1="540" y1="117.04" x2="780" y2="251.44" stroke="#4a4a4a" stroke-width="1.25"/>
<line x1="540" y1="168.54" x2="780" y2="302.94" stroke="#4a4a4a" stroke-width="1.25"/>
<line x1="560" y1="55.21" x2="780" y2="179.51" stroke="#4a4a4a" stroke-width="1.25"/>
<line x1="560" y1="62.21" x2="780" y2="186.51" stroke="#4a4a4a" stroke-width="1.25"/>
<polygon points="540,66 553.84,58.73 568.98,67.28 568.98,70.28 540,85.5" fill="#fff" stroke="#4a4a4a" stroke-width="1.25"/>
<path d="M553.84,58.73 L562.84,52.43 L576.16,61.75 Q578.78,63.58 576.14,65.39 L568.98,70.28 L568.98,67.28 Z" fill="#fff" stroke="#4a4a4a" stroke-width="1.25"/>
<polygon points="540,117.5 601.09,85.43 615.77,93.72 615.77,96.72 540,136.5" fill="#fff" stroke="#4a4a4a" stroke-width="1.25"/>
<path d="M601.09,85.43 L610.09,79.13 L622.95,88.18 Q625.57,90.02 622.93,91.83 L615.77,96.72 L615.77,93.72 Z" fill="#fff" stroke="#4a4a4a" stroke-width="1.25"/>
<polygon points="540,168.5 647.88,111.86 663.48,120.67 663.48,123.67 540,188.5" fill="#fff" stroke="#4a4a4a" stroke-width="1.25"/>
<path d="M647.88,111.86 L656.88,105.56 L670.65,115.15 Q673.28,116.97 670.64,118.78 L663.48,123.67 L663.48,120.67 Z" fill="#fff" stroke="#4a4a4a" stroke-width="1.25"/>
<polygon points="540,222 696.96,139.59 712.1,148.15 712.1,151.15 540,241.5" fill="#fff" stroke="#4a4a4a" stroke-width="1.25"/>
<path d="M696.96,139.59 L705.96,133.29 L719.28,142.61 Q721.9,144.45 719.26,146.25 L712.1,151.15 L712.1,148.15 Z" fill="#fff" stroke="#4a4a4a" stroke-width="1.25"/>
<polygon points="540,275.5 746.05,167.33 760.72,175.62 760.72,178.62 540,294.5" fill="#fff" stroke="#4a4a4a" stroke-width="1.25"/>
<path d="M746.05,167.33 L755.05,161.03 L767.91,170.08 Q770.52,171.92 767.88,173.73 L760.72,178.62 L760.72,175.62 Z" fill="#fff" stroke="#4a4a4a" stroke-width="1.25"/>
<polygon points="540,328.5 794.67,194.8 809.35,203.09 809.35,206.09 540,347.5" fill="#fff" stroke="#4a4a4a" stroke-width="1.25"/>
<path d="M794.67,194.8 L803.67,188.5 L816.53,197.55 Q819.15,199.39 816.51,201.2 L809.35,206.09 L809.35,203.09 Z" fill="#fff" stroke="#4a4a4a" stroke-width="1.25"/>
<line x1="632.25" y1="193" x2="660" y2="208.75" stroke="#222" stroke-width="1.25"/>
<polygon points="660,208.75 652.97,206.95 654.85,203.64" fill="#111" stroke="#111" stroke-width="0.3"/>
<polygon points="632.25,193 639.28,194.8 637.4,198.11" fill="#111" stroke="#111" stroke-width="0.3"/>
</g>
<circle cx="667.5" cy="151" r="94" fill="none" stroke="#555" stroke-width="1"/>
<text x="675" y="186.6" font-size="16.5">4"</text>
<path d="M463.75,340 C470,275 525,200 630,212.5" fill="none" stroke="#333" stroke-width="1.25"/>
<polygon points="630,212.5 621.86,213.83 622.19,209.84" fill="#111" stroke="#111" stroke-width="0.3"/>
<polygon points="463.75,340 462.76,331.81 466.73,332.31" fill="#111" stroke="#111" stroke-width="0.3"/>
<line x1="450" y1="343.75" x2="461.25" y2="350" stroke="#222" stroke-width="1.25"/>
<polygon points="450,343.75 454.71,344.54 453.16,347.33" fill="#111" stroke="#111" stroke-width="0.3"/>
<polygon points="461.25,350 456.54,349.21 458.09,346.42" fill="#111" stroke="#111" stroke-width="0.3"/>
<polygon points="135,598.75 202.5,560 202,563 137,601" fill="#c8c8c8" stroke="#505050" stroke-width="1.25"/>
<polygon points="202.5,560 332,634.5 331,637.5 202,563" fill="#c8c8c8" stroke="#505050" stroke-width="1.25"/>
<line x1="158.75" y1="611" x2="202.5" y2="587.5" stroke="#4a4a4a" stroke-width="1.25"/>
<line x1="202.5" y1="587.5" x2="306" y2="648" stroke="#4a4a4a" stroke-width="1.25"/>
<polygon points="248.8,678 332,634 332,663 248.8,709" fill="#fff" stroke="#4a4a4a" stroke-width="1.25"/>
<polygon points="248.8,680.5 331.5,635 331.5,638.6 248.8,683.8" fill="#c8c8c8" stroke="#505050" stroke-width="1.25"/>
<polygon points="248.8,705 331.5,659.5 331.5,662.6 248.8,708.2" fill="#c8c8c8" stroke="#505050" stroke-width="1.25"/>
<polygon points="329.5,635.5 333,634 333,662 329.5,663" fill="#d0d0d0" stroke="#505050" stroke-width="1.25"/>
<circle cx="331.3" cy="642" r="0.7" fill="#333"/><circle cx="331.3" cy="652" r="0.7" fill="#333"/>
<path d="M252,707 L255.5,715.5 Q257.5,717 259,715 L260.5,707" fill="none" stroke="#444" stroke-width="1.25"/>
<path d="M315,671 L318.5,679 Q320.5,680.5 322,678.5 L324.5,669" fill="none" stroke="#444" stroke-width="1.25"/>
<polygon points="106.25,586.25 110,584.5 249.5,663.5 249.5,718 246,718 106.25,638.75" fill="#fff" stroke="#4a4a4a" stroke-width="1.25"/>
<line x1="106.25" y1="586.25" x2="246" y2="665.5" stroke="#4a4a4a" stroke-width="1.25"/>
<line x1="246" y1="665.5" x2="249.5" y2="663.5" stroke="#4a4a4a" stroke-width="1.25"/>
<line x1="246" y1="665.5" x2="246" y2="718" stroke="#4a4a4a" stroke-width="1.25"/>
<line x1="106.25" y1="586.25" x2="106.25" y2="638.75" stroke="#4a4a4a" stroke-width="1.25"/>
<line x1="106.25" y1="638.75" x2="246" y2="718" stroke="#4a4a4a" stroke-width="1.25"/>
<line x1="80" y1="603.75" x2="80" y2="652.5" stroke="#222" stroke-width="1.25"/>
<polygon points="80,652.5 78.1,645.5 81.9,645.5" fill="#111" stroke="#111" stroke-width="0.3"/>
<polygon points="80,603.75 81.9,610.75 78.1,610.75" fill="#111" stroke="#111" stroke-width="0.3"/>
<line x1="67.5" y1="610" x2="106.25" y2="586.25" stroke="#4a4a4a" stroke-width="1.25"/>
<line x1="67.5" y1="661" x2="106.25" y2="638.75" stroke="#4a4a4a" stroke-width="1.25"/>
<text x="37" y="639" font-size="16">6.5"</text>
<line x1="81" y1="655" x2="218" y2="734" stroke="#222" stroke-width="1.25"/>
<polygon points="218,734 210.99,732.15 212.89,728.86" fill="#111" stroke="#111" stroke-width="0.3"/>
<polygon points="81,655 88.01,656.85 86.11,660.14" fill="#111" stroke="#111" stroke-width="0.3"/>
<line x1="210" y1="740" x2="246" y2="718" stroke="#4a4a4a" stroke-width="1.25"/>
<text x="111" y="711.5" font-size="16">35"</text>
<line x1="276" y1="724" x2="358" y2="678" stroke="#222" stroke-width="1.25"/>
<polygon points="358,678 352.82,683.08 350.97,679.77" fill="#111" stroke="#111" stroke-width="0.3"/>
<polygon points="276,724 281.18,718.92 283.03,722.23" fill="#111" stroke="#111" stroke-width="0.3"/>
<line x1="254" y1="716" x2="290" y2="732" stroke="#4a4a4a" stroke-width="1.25"/>
<line x1="332" y1="662" x2="373.5" y2="684" stroke="#4a4a4a" stroke-width="1.25"/>
<text x="320.5" y="715.7" font-size="16">23.5"</text>
</svg></body></html>
